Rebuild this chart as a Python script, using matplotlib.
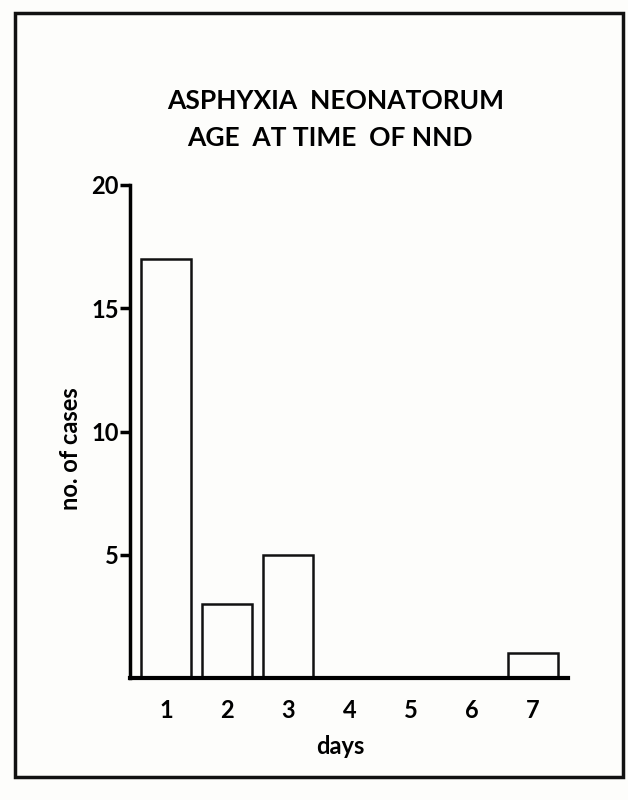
import numpy as np
import matplotlib.pyplot as plt
from matplotlib.patches import Rectangle

# Data
days = [1, 2, 3, 4, 5, 6, 7]
cases = [17, 3, 5, 0, 0, 0, 1]
y_ticks = [5, 10, 15, 20]
title_lines = ["ASPHYXIA  NEONATORUM", "AGE  AT TIME  OF NND"]

plt.rcParams['font.family'] = ['Lato', 'DejaVu Sans']
plt.rcParams['font.weight'] = 'bold'
plt.rcParams['axes.labelweight'] = 'bold'

fig = plt.figure(figsize=(6.28, 8), dpi=100)
fig.patch.set_facecolor('#fdfdfb')

# scanned page frame
fig.patches.append(Rectangle((15 / 628, 1 - 777 / 800), 608 / 628, 764 / 800,
                             transform=fig.transFigure, fill=False,
                             edgecolor='#111111', linewidth=2.5))

ax = fig.add_axes([130 / 628, 1 - 678 / 800, 438 / 628, 493 / 800])
ax.set_facecolor('none')

# only the bars with cases get a box
x = np.array(days)
y = np.array(cases)
mask = y > 0
ax.bar(x[mask], y[mask], width=0.82, facecolor='none', edgecolor='#111111',
       linewidth=1.8)

ax.set_xlim(0.41, 7.58)
ax.set_ylim(0, 20)

for s in ['top', 'right']:
    ax.spines[s].set_visible(False)
ax.spines['left'].set_linewidth(2.5)
ax.spines['bottom'].set_linewidth(3)

ax.set_yticks(y_ticks)
ax.set_yticklabels([str(t) for t in y_ticks], fontsize=17)
ax.set_xticks(days)
ax.set_xticklabels([str(d) for d in days], fontsize=17)
ax.tick_params(axis='y', direction='out', length=7, width=2.5, pad=1)
ax.tick_params(axis='x', length=0, pad=15)

ax.set_ylabel('no. of cases', fontsize=17)
ax.yaxis.set_label_coords(-0.109, 0.4645)
ax.set_xlabel('days', fontsize=17)
ax.xaxis.set_label_coords(0.48, -0.115)

fig.text(336 / 628, 1 - 101 / 800, title_lines[0], ha='center', va='center',
         fontsize=19)
fig.text(330 / 628, 1 - 138 / 800, title_lines[1], ha='center', va='center',
         fontsize=19)

plt.savefig('out.png', dpi=100, facecolor=fig.get_facecolor())
